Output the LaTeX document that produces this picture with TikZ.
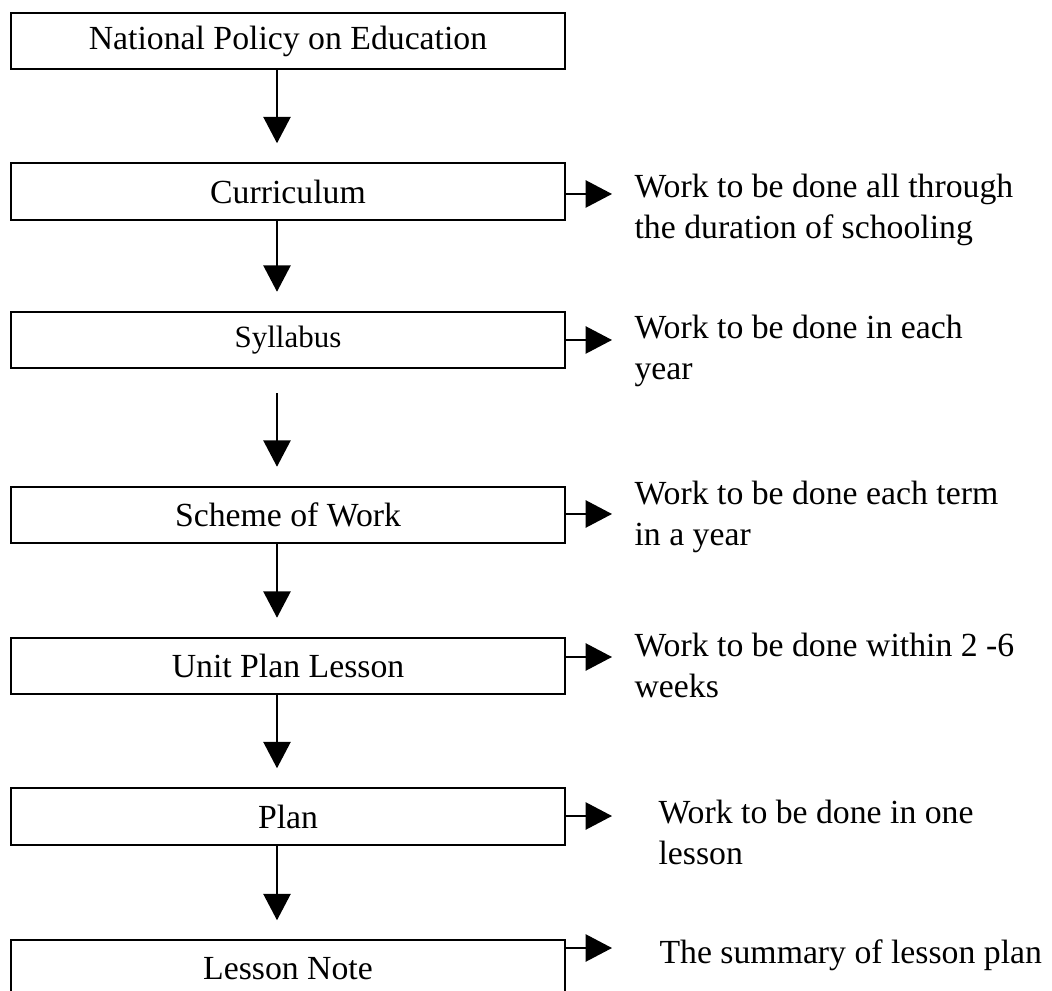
\documentclass[tikz,border=0pt]{standalone}
\usepackage{fontspec}
\setmainfont{Liberation Serif}
\usetikzlibrary{arrows.meta}

\begin{document}
\begin{tikzpicture}[x=0.0125cm,y=-0.0125cm,
    stage/.style={draw,line width=0.7pt,minimum width=6.925cm,minimum height=0.706cm,
      inner sep=0pt,outer sep=0pt,font=\fontsize{12}{14.75}\selectfont},
    remark/.style={anchor=base west,align=left,inner sep=0pt,
      font=\fontsize{12}{14.75}\selectfont},
    flow/.style={line width=0.7pt,-{Triangle[length=0.33cm,width=0.34cm]}}]
  \useasboundingbox (0,0) rectangle (1052,991);

  % Drawing the boxes of the chain
  \node[stage] (policy)   at (288,41)    {National Policy on Education};
  \node[stage] (curric)   at (288,191.5) {Curriculum};
  \node[stage,font=\fontsize{11}{13}\selectfont] (syllabus) at (288,340) {Syllabus};
  \node[stage] (scheme)   at (288,515)   {Scheme of Work};
  \node[stage] (unitplan) at (288,666)   {Unit Plan Lesson};
  \node[stage] (plan)     at (288,816.5) {Plan};
  \node[stage] (note)     at (288,968.5) {Lesson Note};

  % Drawing the arrows down the chain
  \draw[flow,shorten >=0.25cm] ([xshift=-0.1375cm]policy.south) -- ([xshift=-0.1375cm]curric.north);
  \draw[flow,shorten >=0.25cm] ([xshift=-0.1375cm]curric.south) -- ([xshift=-0.1375cm]syllabus.north);
  \draw[flow,shorten <=0.3125cm,shorten >=0.25cm] ([xshift=-0.1375cm]syllabus.south) -- ([xshift=-0.1375cm]scheme.north);
  \draw[flow,shorten >=0.25cm] ([xshift=-0.1375cm]scheme.south) -- ([xshift=-0.1375cm]unitplan.north);
  \draw[flow,shorten >=0.25cm] ([xshift=-0.1375cm]unitplan.south) -- ([xshift=-0.1375cm]plan.north);
  \draw[flow,shorten >=0.25cm] ([xshift=-0.1375cm]plan.south) -- ([xshift=-0.1375cm]note.north);

  % Marking the ends of the side arrows
  \coordinate (curric-end)   at (612,194);
  \coordinate (syllabus-end) at (612,340);
  \coordinate (scheme-end)   at (612,514);
  \coordinate (unitplan-end) at (612,657);
  \coordinate (plan-end)     at (612,816);
  \coordinate (note-end)     at (612,948);

  % Drawing the side arrows
  \draw[flow] (curric.east |- curric-end) -- (curric-end);
  \draw[flow] (syllabus.east |- syllabus-end) -- (syllabus-end);
  \draw[flow] (scheme.east |- scheme-end) -- (scheme-end);
  \draw[flow] (unitplan.east |- unitplan-end) -- (unitplan-end);
  \draw[flow] (plan.east |- plan-end) -- (plan-end);
  \draw[flow] (note.east |- note-end) -- (note-end);

  % Writing the remarks (base is the last line)
  \node[remark] (curric-txt)   at (634,239)   {Work to be done all through\\the duration of schooling};
  \node[remark] (syllabus-txt) at (634,379.5) {Work to be done in each\\year};
  \node[remark] (scheme-txt)   at (634,545.5) {Work to be done each term\\in a year};
  \node[remark] (unitplan-txt) at (634,697.5) {Work to be done within 2 -6\\weeks};
  \node[remark] (plan-txt)     at (658,864.9) {Work to be done in one\\lesson};
  \node[remark] (note-txt)     at (659,963)   {The summary of lesson plan};
\end{tikzpicture}
\end{document}
